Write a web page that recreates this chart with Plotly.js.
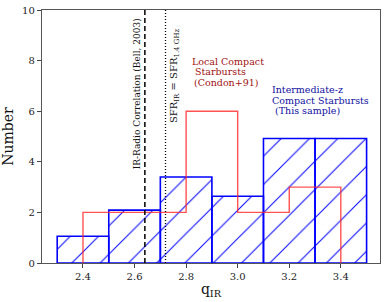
<!DOCTYPE html>
<html><head><meta charset="utf-8">
<script src="https://cdn.plot.ly/plotly-3.0.1.min.js"></script>
<style>body{margin:0;padding:0;background:#fff}#chart{width:391px;height:302px}</style>
</head><body><div id="chart"></div>
<script>
// Blue histogram: intermediate-z compact starbursts (this sample)
const blueCenters = [2.4, 2.6, 2.8, 3.0, 3.2, 3.4];
const blueCounts  = [1.06, 2.09, 3.40, 2.64, 4.92, 4.92];
const binWidth = 0.2;
// Red step histogram: local compact starbursts (Condon+91)
const redEdges  = [2.4, 2.6, 2.8, 3.0, 3.2, 3.4];
const redCounts = [2, 2, 6, 2, 3];
// Reference lines
const bellQ = 2.64;
const sfrQ = 2.72;
const yTicks = [0, 2, 4, 6, 8, 10];
const xTicks = [2.4, 2.6, 2.8, 3.0, 3.2, 3.4];
// Text labels
const redLabel = ['Local Compact', 'Starbursts', '(Condon+91)'];
const blueLabel = ['Intermediate-z', 'Compact Starbursts', '(This sample)'];

const redX = [redEdges[0]].concat(redEdges);
const redY = [0].concat(redCounts).concat([0]);

const serif = 'DejaVu Serif';
const traces = [
  {type:'bar', x: blueCenters, y: blueCounts, width: binWidth,
   marker:{color:'rgba(0,0,0,0)', line:{color:'#0000ff', width:1.6},
     pattern:{shape:'/', fgcolor:'#0000ff', bgcolor:'rgba(0,0,0,0)', size:20, solidity:0.05}},
   hoverinfo:'skip', showlegend:false},
  {type:'scatter', mode:'lines', x: redX, y: redY, line:{shape:'hv', color:'rgba(255,40,40,0.8)', width:1.4},
   hoverinfo:'skip', showlegend:false},
  {type:'scatter', mode:'lines', x:[bellQ,bellQ], y:[0,10], line:{color:'#000', width:1.5, dash:'5px,3px'}, showlegend:false, hoverinfo:'skip'},
  {type:'scatter', mode:'lines', x:[sfrQ,sfrQ], y:[0,10], line:{color:'#000', width:1.3, dash:'1px,2px'}, showlegend:false, hoverinfo:'skip'}
];

const redFont = {family:serif, size:9.5, color:'#a01010'};
const blueFont = {family:serif, size:9.5, color:'#1010a0'};
const redPos = [[2.818, 7.98], [2.83, 7.55], [2.827, 7.15]];
const bluePos = [[3.131, 6.87], [3.131, 6.44], [3.141, 6.04]];
const textAnn = [];
redLabel.forEach((t,i)=>textAnn.push({x:redPos[i][0], y:redPos[i][1], xref:'x', yref:'y', text:t,
  xanchor:'left', yanchor:'middle', showarrow:false, font:redFont, borderpad:0}));
blueLabel.forEach((t,i)=>textAnn.push({x:bluePos[i][0], y:bluePos[i][1], xref:'x', yref:'y', text:t,
  xanchor:'left', yanchor:'middle', showarrow:false, font:blueFont, borderpad:0}));

const layout = {
  width:391, height:302,
  margin:{l:42, r:11, t:10, b:39},
  paper_bgcolor:'#fff', plot_bgcolor:'#fff',
  bargap:0,
  font:{family:serif, size:10, color:'#222'},
  xaxis:{range:[2.241, 3.552], tickvals:xTicks, ticktext:xTicks.map(v=>v.toFixed(1)),
    ticks:'outside', ticklen:4, tickcolor:'#444', showgrid:false, zeroline:false,
    showline:true, linecolor:'#555', linewidth:1.2, mirror:true,
    title:{text:'q<sub>IR</sub>', font:{family:serif, size:14, color:'#111'}, standoff:3}},
  yaxis:{range:[0,10], tickvals:yTicks, ticks:'outside', ticklen:4, tickcolor:'#444',
    showgrid:false, zeroline:false, showline:true, linecolor:'#555', linewidth:1.2, mirror:true,
    title:{text:'Number', font:{family:serif, size:14, color:'#111'}, standoff:10}},
  annotations:[
    {x:bellQ, y:10, xref:'x', yref:'y', text:'IR-Radio Correlation (Bell, 2003)', textangle:-90,
     xanchor:'right', yanchor:'top', xshift:-2, yshift:-7, showarrow:false, borderpad:0, font:{family:serif, size:9, color:'#111'}},
    {x:sfrQ, y:10, xref:'x', yref:'y', text:'SFR<sub>IR</sub> = SFR<sub>1.4 GHz</sub>', textangle:-90,
     xanchor:'left', yanchor:'top', xshift:1, yshift:-18, showarrow:false, borderpad:0, font:{family:serif, size:10, color:'#111'}}
  ].concat(textAnn)
};
Plotly.newPlot('chart', traces, layout, {displayModeBar:false, staticPlot:true});
</script></body></html>
